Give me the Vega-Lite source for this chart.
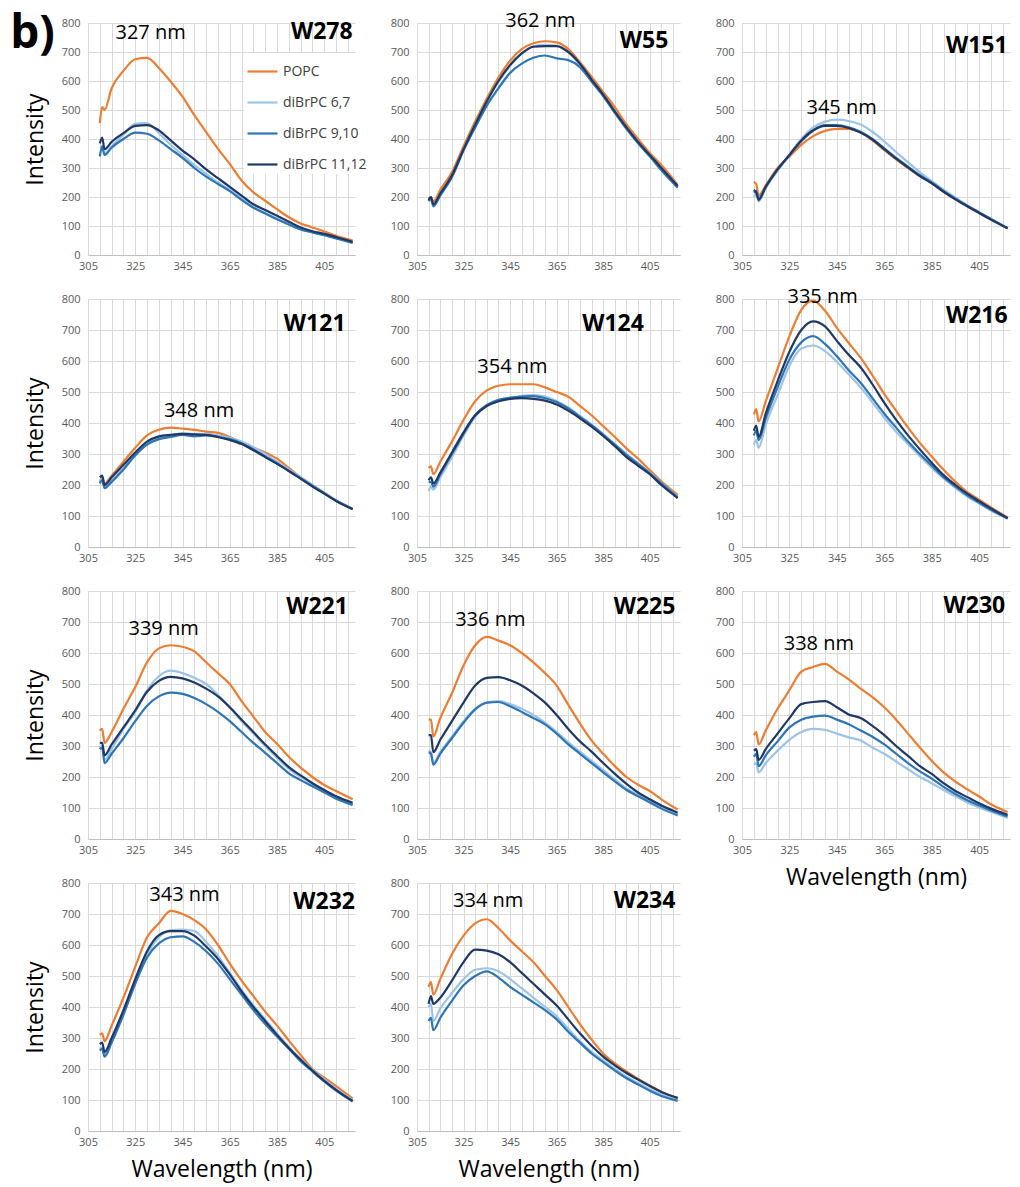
{
  "$schema": "https://vega.github.io/schema/vega-lite/v6.json",
  "background": "white",
  "padding": {"left": 10, "top": 11, "right": 5, "bottom": 5},
  "datasets": {
    "spec": [
      {"p":"W278","s":"POPC","x":[310,311,312,315,320,325,330,335,340,345,350,355,360,365,370,375,380,385,390,395,400,405,410,417],"y":[455,510,500,575,635,675,680,645,598,546,482,424,366,314,257,216,187,158,130,109,95,81,66,50]},
      {"p":"W278","s":"diBrPC 6,7","x":[310,311,312,315,320,325,330,335,340,345,350,355,360,365,370,375,380,385,390,395,400,405,410,417],"y":[375,370,350,375,415,452,455,420,380,345,310,280,250,225,195,165,145,125,105,88,78,68,58,42]},
      {"p":"W278","s":"diBrPC 9,10","x":[310,311,312,315,320,325,330,335,340,345,350,355,360,365,370,375,380,385,390,395,400,405,410,417],"y":[340,375,345,370,400,422,418,395,365,335,300,270,245,220,190,163,143,123,105,88,78,68,57,42]},
      {"p":"W278","s":"diBrPC 11,12","x":[310,311,312,315,320,325,330,335,340,345,350,355,360,365,370,375,380,385,390,395,400,405,410,417],"y":[385,405,365,390,420,445,448,430,395,360,330,295,265,235,205,175,155,135,115,95,82,73,62,45]},
      {"p":"W55","s":"POPC","x":[310,311,312,315,320,325,330,335,340,345,350,355,360,365,370,375,380,385,390,395,400,405,410,417],"y":[195,200,185,225,285,375,460,540,612,670,710,730,737,733,710,665,615,562,510,450,400,352,310,242]},
      {"p":"W55","s":"diBrPC 6,7","x":[310,311,312,315,320,325,330,335,340,345,350,355,360,365,370,375,380,385,390,395,400,405,410,417],"y":[188,195,172,210,272,365,450,528,598,652,695,720,725,722,700,655,602,550,492,437,388,343,298,236]},
      {"p":"W55","s":"diBrPC 9,10","x":[310,311,312,315,320,325,330,335,340,345,350,355,360,365,370,375,380,385,390,395,400,405,410,417],"y":[185,195,168,205,268,360,440,515,575,628,660,680,688,678,672,648,598,548,490,435,385,340,292,232]},
      {"p":"W55","s":"diBrPC 11,12","x":[310,311,312,315,320,325,330,335,340,345,350,355,360,365,370,375,380,385,390,395,400,405,410,417],"y":[190,200,175,212,275,365,450,530,600,655,695,718,720,720,700,660,605,553,495,440,390,345,300,238]},
      {"p":"W151","s":"POPC","x":[310,311,312,315,320,325,330,335,340,345,350,355,360,365,370,375,380,385,390,395,400,405,410,417],"y":[252,245,205,240,300,340,380,410,428,435,435,422,395,362,330,300,272,248,218,192,168,145,122,92]},
      {"p":"W151","s":"diBrPC 6,7","x":[310,311,312,315,320,325,330,335,340,345,350,355,360,365,370,375,380,385,390,395,400,405,410,417],"y":[200,210,185,230,290,345,400,440,460,467,462,450,425,392,355,320,285,255,225,198,172,148,124,93]},
      {"p":"W151","s":"diBrPC 9,10","x":[310,311,312,315,320,325,330,335,340,345,350,355,360,365,370,375,380,385,390,395,400,405,410,417],"y":[215,220,195,235,295,345,392,428,448,448,440,425,400,368,335,305,275,250,220,194,170,147,124,92]},
      {"p":"W151","s":"diBrPC 11,12","x":[310,311,312,315,320,325,330,335,340,345,350,355,360,365,370,375,380,385,390,395,400,405,410,417],"y":[225,215,190,235,295,345,395,430,445,445,438,422,398,365,332,302,272,247,218,192,168,145,122,92]},
      {"p":"W121","s":"POPC","x":[310,311,312,315,320,325,330,335,340,345,350,355,360,365,370,375,380,385,390,395,400,405,410,417],"y":[210,225,205,230,275,320,360,378,385,382,378,372,368,355,338,320,305,285,255,225,200,175,150,123]},
      {"p":"W121","s":"diBrPC 6,7","x":[310,311,312,315,320,325,330,335,340,345,350,355,360,365,370,375,380,385,390,395,400,405,410,417],"y":[210,220,195,215,255,298,335,352,360,367,365,365,360,352,340,322,300,275,250,225,200,175,150,123]},
      {"p":"W121","s":"diBrPC 9,10","x":[310,311,312,315,320,325,330,335,340,345,350,355,360,365,370,375,380,385,390,395,400,405,410,417],"y":[205,215,190,210,250,295,330,348,355,362,357,360,355,348,335,315,292,270,245,222,197,173,150,123]},
      {"p":"W121","s":"diBrPC 11,12","x":[310,311,312,315,320,325,330,335,340,345,350,355,360,365,370,375,380,385,390,395,400,405,410,417],"y":[225,230,200,225,265,305,340,357,362,365,363,362,355,345,332,312,290,268,245,220,195,172,148,122]},
      {"p":"W124","s":"POPC","x":[310,311,312,315,320,325,330,335,340,345,350,355,360,365,370,375,380,385,390,395,400,405,410,417],"y":[255,260,235,275,340,410,470,505,520,525,525,525,515,500,485,455,425,390,355,318,285,248,212,168]},
      {"p":"W124","s":"diBrPC 6,7","x":[310,311,312,315,320,325,330,335,340,345,350,355,360,365,370,375,380,385,390,395,400,405,410,417],"y":[180,195,185,225,290,360,420,455,470,480,488,490,485,470,450,423,395,365,332,300,270,240,207,162]},
      {"p":"W124","s":"diBrPC 9,10","x":[310,311,312,315,320,325,330,335,340,345,350,355,360,365,370,375,380,385,390,395,400,405,410,417],"y":[210,210,195,235,300,365,425,458,475,482,485,487,480,468,447,420,393,362,330,297,268,238,205,160]},
      {"p":"W124","s":"diBrPC 11,12","x":[310,311,312,315,320,325,330,335,340,345,350,355,360,365,370,375,380,385,390,395,400,405,410,417],"y":[215,225,205,240,305,370,425,455,470,478,480,478,472,460,440,415,388,358,325,290,262,235,200,158]},
      {"p":"W216","s":"POPC","x":[310,311,312,315,320,325,330,335,340,345,350,355,360,365,370,375,380,385,390,395,400,405,410,417],"y":[428,445,405,470,575,680,765,795,762,707,658,611,554,494,439,385,336,292,249,210,177,153,128,95]},
      {"p":"W216","s":"diBrPC 6,7","x":[310,311,312,315,320,325,330,335,340,345,350,355,360,365,370,375,380,385,390,395,400,405,410,417],"y":[330,345,320,395,490,585,640,650,632,597,557,515,467,417,372,332,293,256,221,191,163,140,118,91]},
      {"p":"W216","s":"diBrPC 9,10","x":[310,311,312,315,320,325,330,335,340,345,350,355,360,365,370,375,380,385,390,395,400,405,410,417],"y":[360,375,345,415,515,605,660,680,655,615,570,530,480,430,385,340,300,262,225,195,167,143,120,93]},
      {"p":"W216","s":"diBrPC 11,12","x":[310,311,312,315,320,325,330,335,340,345,350,355,360,365,370,375,380,385,390,395,400,405,410,417],"y":[375,392,355,430,535,630,700,728,712,665,620,580,525,465,410,360,315,272,232,200,172,148,124,93]},
      {"p":"W221","s":"POPC","x":[310,311,312,315,320,325,330,335,340,345,350,355,360,365,370,375,380,385,390,395,400,405,410,417],"y":[350,355,310,345,420,490,570,615,625,620,605,570,535,500,445,395,345,307,265,230,200,174,155,128]},
      {"p":"W221","s":"diBrPC 6,7","x":[310,311,312,315,320,325,330,335,340,345,350,355,360,365,370,375,380,385,390,395,400,405,410,417],"y":[290,300,255,290,355,410,480,525,543,535,520,500,465,425,380,340,300,262,226,200,178,155,135,110]},
      {"p":"W221","s":"diBrPC 9,10","x":[310,311,312,315,320,325,330,335,340,345,350,355,360,365,370,375,380,385,390,395,400,405,410,417],"y":[290,295,245,275,325,380,430,460,472,468,455,435,410,380,345,310,278,245,212,190,170,150,130,110]},
      {"p":"W221","s":"diBrPC 11,12","x":[310,311,312,315,320,325,330,335,340,345,350,355,360,365,370,375,380,385,390,395,400,405,410,417],"y":[310,310,270,305,360,415,475,510,523,518,505,485,460,425,385,345,305,268,232,205,180,158,138,117]},
      {"p":"W225","s":"POPC","x":[310,311,312,315,320,325,330,335,340,345,350,355,360,365,370,375,380,385,390,395,400,405,410,417],"y":[385,385,330,390,470,560,625,652,640,625,600,570,535,495,433,373,318,275,235,200,175,155,128,95]},
      {"p":"W225","s":"diBrPC 6,7","x":[310,311,312,315,320,325,330,335,340,345,350,355,360,365,370,375,380,385,390,395,400,405,410,417],"y":[285,280,245,280,330,380,420,440,445,435,420,400,375,345,312,282,252,222,192,163,142,122,102,78]},
      {"p":"W225","s":"diBrPC 9,10","x":[310,311,312,315,320,325,330,335,340,345,350,355,360,365,370,375,380,385,390,395,400,405,410,417],"y":[280,275,240,275,325,375,418,440,442,428,410,390,370,340,305,275,245,215,186,158,138,118,98,76]},
      {"p":"W225","s":"diBrPC 11,12","x":[310,311,312,315,320,325,330,335,340,345,350,355,360,365,370,375,380,385,390,395,400,405,410,417],"y":[335,335,280,320,380,440,495,520,522,512,495,470,440,400,355,315,282,245,210,178,150,128,108,85]},
      {"p":"W230","s":"POPC","x":[310,311,312,315,320,325,330,335,340,345,350,355,360,365,370,375,380,385,390,395,400,405,410,417],"y":[335,345,305,350,420,480,540,555,565,540,515,485,458,425,385,340,295,252,215,185,160,137,112,87]},
      {"p":"W230","s":"diBrPC 6,7","x":[310,311,312,315,320,325,330,335,340,345,350,355,360,365,370,375,380,385,390,395,400,405,410,417],"y":[240,245,215,245,285,320,345,355,352,340,328,318,295,275,250,225,200,180,158,138,118,102,88,68]},
      {"p":"W230","s":"diBrPC 9,10","x":[310,311,312,315,320,325,330,335,340,345,350,355,360,365,370,375,380,385,390,395,400,405,410,417],"y":[265,275,235,270,315,360,385,395,398,385,370,350,330,305,275,245,218,195,168,145,125,108,92,73]},
      {"p":"W230","s":"diBrPC 11,12","x":[310,311,312,315,320,325,330,335,340,345,350,355,360,365,370,375,380,385,390,395,400,405,410,417],"y":[285,290,255,290,340,390,435,442,445,425,402,390,365,335,300,268,235,210,180,155,135,115,98,78]},
      {"p":"W232","s":"POPC","x":[310,311,312,315,320,325,330,335,340,345,350,355,360,365,370,375,380,385,390,395,400,405,410,417],"y":[310,315,290,340,430,530,625,670,710,700,680,650,600,540,485,435,385,340,292,245,200,172,145,105]},
      {"p":"W232","s":"diBrPC 6,7","x":[310,311,312,315,320,325,330,335,340,345,350,355,360,365,370,375,380,385,390,395,400,405,410,417],"y":[265,270,245,290,380,480,570,625,648,650,645,610,565,510,455,405,360,315,272,232,198,166,136,100]},
      {"p":"W232","s":"diBrPC 9,10","x":[310,311,312,315,320,325,330,335,340,345,350,355,360,365,370,375,380,385,390,395,400,405,410,417],"y":[260,265,240,285,375,475,560,605,625,628,610,580,540,490,440,390,345,305,265,225,192,160,130,95]},
      {"p":"W232","s":"diBrPC 11,12","x":[310,311,312,315,320,325,330,335,340,345,350,355,360,365,370,375,380,385,390,395,400,405,410,417],"y":[280,285,255,300,390,490,580,632,645,645,630,595,555,505,450,400,355,310,268,230,195,162,133,97]},
      {"p":"W234","s":"POPC","x":[310,311,312,315,320,325,330,335,340,345,350,355,360,365,370,375,380,385,390,395,400,405,410,417],"y":[465,480,440,490,570,630,670,683,655,615,580,545,500,455,400,345,295,250,218,192,168,147,127,105]},
      {"p":"W234","s":"diBrPC 6,7","x":[310,311,312,315,320,325,330,335,340,345,350,355,360,365,370,375,380,385,390,395,400,405,410,417],"y":[400,410,355,395,445,490,520,525,515,490,460,430,400,370,330,290,255,228,200,175,155,135,118,100]},
      {"p":"W234","s":"diBrPC 9,10","x":[310,311,312,315,320,325,330,335,340,345,350,355,360,365,370,375,380,385,390,395,400,405,410,417],"y":[355,365,325,365,420,470,500,515,495,465,440,415,390,360,320,285,250,222,195,170,150,130,113,97]},
      {"p":"W234","s":"diBrPC 11,12","x":[310,311,312,315,320,325,330,335,340,345,350,355,360,365,370,375,380,385,390,395,400,405,410,417],"y":[410,435,410,430,485,545,585,582,570,545,510,475,440,405,360,315,275,240,212,187,166,145,126,107]}
    ]
  },
  "data": {"name": "spec"},
  "transform": [{"flatten": ["x", "y"]}],
  "columns": 3,
  "spacing": {"row": 44, "column": 62},
  "bounds": "flush",
  "resolve": {"scale": {"color": "independent"}},
  "concat": [
    {"width": 267, "height": 232, "layer": [
      {"transform": [{"filter": "datum.p === 'W278'"}], "mark": {"type": "line"},
       "encoding": {
        "x": {"field": "x", "type": "quantitative", "scale": {"domain": [305, 418], "nice": false, "zero": false}, "axis": {"values": [305,310,315,320,325,330,335,340,345,350,355,360,365,370,375,380,385,390,395,400,405,410,415], "tickCount": 100, "labelExpr": "(datum.value - 305) % 20 === 0 ? datum.label : ''", "title": null}},
        "y": {"field": "y", "type": "quantitative", "scale": {"domain": [0, 800], "nice": false}, "axis": {"values": [0,100,200,300,400,500,600,700,800], "tickCount": 100, "title": "Intensity"}},
        "color": {"field": "s", "type": "nominal", "scale": {"domain": ["POPC", "diBrPC 6,7", "diBrPC 9,10", "diBrPC 11,12"], "range": ["#ED7D31", "#9DC3E6", "#2E75B6", "#1F3864"]},
          "legend": {"orient": "none", "legendX": 156, "legendY": 30, "title": null, "symbolType": "stroke", "symbolStrokeWidth": 2.5, "symbolSize": 900, "labelFontSize": 14, "labelColor": "#404040", "labelFont": "Open Sans", "fillColor": "white", "padding": 2, "rowPadding": 7, "labelOffset": 4}}
       }},
      {"data": {"values": [{}]}, "mark": {"type": "text", "text": "b)", "fontSize": 46, "fontWeight": "bold", "align": "center", "baseline": "middle"}, "encoding": {"x": {"datum": 281.5}, "y": {"datum": 762}}},
      {"data": {"values": [{}]}, "mark": {"type": "text", "text": "327 nm", "fontSize": 20, "align": "center", "baseline": "middle"}, "encoding": {"x": {"datum": 331.5}, "y": {"datum": 765}}},
      {"data": {"values": [{}]}, "mark": {"type": "text", "text": "W278", "fontSize": 23, "fontWeight": "bold", "align": "right", "baseline": "middle"}, "encoding": {"x": {"datum": 417}, "y": {"datum": 769}}}
    ]},
    {"width": 263, "height": 232, "layer": [
      {"transform": [{"filter": "datum.p === 'W55'"}], "mark": {"type": "line"},
       "encoding": {
        "x": {"field": "x", "type": "quantitative", "scale": {"domain": [305, 418], "nice": false, "zero": false}, "axis": {"values": [305,310,315,320,325,330,335,340,345,350,355,360,365,370,375,380,385,390,395,400,405,410,415], "tickCount": 100, "labelExpr": "(datum.value - 305) % 20 === 0 ? datum.label : ''", "title": null}},
        "y": {"field": "y", "type": "quantitative", "scale": {"domain": [0, 800], "nice": false}, "axis": {"values": [0,100,200,300,400,500,600,700,800], "tickCount": 100, "title": null}},
        "color": {"field": "s", "type": "nominal", "scale": {"domain": ["POPC", "diBrPC 6,7", "diBrPC 9,10", "diBrPC 11,12"], "range": ["#ED7D31", "#9DC3E6", "#2E75B6", "#1F3864"]}, "legend": null}
       }},
      {"data": {"values": [{}]}, "mark": {"type": "text", "text": "362 nm", "fontSize": 20, "align": "center", "baseline": "middle"}, "encoding": {"x": {"datum": 358}, "y": {"datum": 806}}},
      {"data": {"values": [{}]}, "mark": {"type": "text", "text": "W55", "fontSize": 23, "fontWeight": "bold", "align": "right", "baseline": "middle"}, "encoding": {"x": {"datum": 413}, "y": {"datum": 737}}}
    ]},
    {"width": 268, "height": 232, "layer": [
      {"transform": [{"filter": "datum.p === 'W151'"}], "mark": {"type": "line"},
       "encoding": {
        "x": {"field": "x", "type": "quantitative", "scale": {"domain": [305, 418], "nice": false, "zero": false}, "axis": {"values": [305,310,315,320,325,330,335,340,345,350,355,360,365,370,375,380,385,390,395,400,405,410,415], "tickCount": 100, "labelExpr": "(datum.value - 305) % 20 === 0 ? datum.label : ''", "title": null}},
        "y": {"field": "y", "type": "quantitative", "scale": {"domain": [0, 800], "nice": false}, "axis": {"values": [0,100,200,300,400,500,600,700,800], "tickCount": 100, "title": null}},
        "color": {"field": "s", "type": "nominal", "scale": {"domain": ["POPC", "diBrPC 6,7", "diBrPC 9,10", "diBrPC 11,12"], "range": ["#ED7D31", "#9DC3E6", "#2E75B6", "#1F3864"]}, "legend": null}
       }},
      {"data": {"values": [{}]}, "mark": {"type": "text", "text": "345 nm", "fontSize": 20, "align": "center", "baseline": "middle"}, "encoding": {"x": {"datum": 347}, "y": {"datum": 506}}},
      {"data": {"values": [{}]}, "mark": {"type": "text", "text": "W151", "fontSize": 23, "fontWeight": "bold", "align": "right", "baseline": "middle"}, "encoding": {"x": {"datum": 417}, "y": {"datum": 721}}}
    ]},
    {"width": 267, "height": 248, "layer": [
      {"transform": [{"filter": "datum.p === 'W121'"}], "mark": {"type": "line"},
       "encoding": {
        "x": {"field": "x", "type": "quantitative", "scale": {"domain": [305, 418], "nice": false, "zero": false}, "axis": {"values": [305,310,315,320,325,330,335,340,345,350,355,360,365,370,375,380,385,390,395,400,405,410,415], "tickCount": 100, "labelExpr": "(datum.value - 305) % 20 === 0 ? datum.label : ''", "title": null}},
        "y": {"field": "y", "type": "quantitative", "scale": {"domain": [0, 800], "nice": false}, "axis": {"values": [0,100,200,300,400,500,600,700,800], "tickCount": 100, "title": "Intensity"}},
        "color": {"field": "s", "type": "nominal", "scale": {"domain": ["POPC", "diBrPC 6,7", "diBrPC 9,10", "diBrPC 11,12"], "range": ["#ED7D31", "#9DC3E6", "#2E75B6", "#1F3864"]}, "legend": null}
       }},
      {"data": {"values": [{}]}, "mark": {"type": "text", "text": "348 nm", "fontSize": 20, "align": "center", "baseline": "middle"}, "encoding": {"x": {"datum": 352}, "y": {"datum": 440}}},
      {"data": {"values": [{}]}, "mark": {"type": "text", "text": "W121", "fontSize": 23, "fontWeight": "bold", "align": "right", "baseline": "middle"}, "encoding": {"x": {"datum": 414}, "y": {"datum": 720}}}
    ]},
    {"width": 263, "height": 248, "layer": [
      {"transform": [{"filter": "datum.p === 'W124'"}], "mark": {"type": "line"},
       "encoding": {
        "x": {"field": "x", "type": "quantitative", "scale": {"domain": [305, 418], "nice": false, "zero": false}, "axis": {"values": [305,310,315,320,325,330,335,340,345,350,355,360,365,370,375,380,385,390,395,400,405,410,415], "tickCount": 100, "labelExpr": "(datum.value - 305) % 20 === 0 ? datum.label : ''", "title": null}},
        "y": {"field": "y", "type": "quantitative", "scale": {"domain": [0, 800], "nice": false}, "axis": {"values": [0,100,200,300,400,500,600,700,800], "tickCount": 100, "title": null}},
        "color": {"field": "s", "type": "nominal", "scale": {"domain": ["POPC", "diBrPC 6,7", "diBrPC 9,10", "diBrPC 11,12"], "range": ["#ED7D31", "#9DC3E6", "#2E75B6", "#1F3864"]}, "legend": null}
       }},
      {"data": {"values": [{}]}, "mark": {"type": "text", "text": "354 nm", "fontSize": 20, "align": "center", "baseline": "middle"}, "encoding": {"x": {"datum": 346}, "y": {"datum": 580}}},
      {"data": {"values": [{}]}, "mark": {"type": "text", "text": "W124", "fontSize": 23, "fontWeight": "bold", "align": "right", "baseline": "middle"}, "encoding": {"x": {"datum": 402.5}, "y": {"datum": 720}}}
    ]},
    {"width": 268, "height": 248, "layer": [
      {"transform": [{"filter": "datum.p === 'W216'"}], "mark": {"type": "line"},
       "encoding": {
        "x": {"field": "x", "type": "quantitative", "scale": {"domain": [305, 418], "nice": false, "zero": false}, "axis": {"values": [305,310,315,320,325,330,335,340,345,350,355,360,365,370,375,380,385,390,395,400,405,410,415], "tickCount": 100, "labelExpr": "(datum.value - 305) % 20 === 0 ? datum.label : ''", "title": null}},
        "y": {"field": "y", "type": "quantitative", "scale": {"domain": [0, 800], "nice": false}, "axis": {"values": [0,100,200,300,400,500,600,700,800], "tickCount": 100, "title": null}},
        "color": {"field": "s", "type": "nominal", "scale": {"domain": ["POPC", "diBrPC 6,7", "diBrPC 9,10", "diBrPC 11,12"], "range": ["#ED7D31", "#9DC3E6", "#2E75B6", "#1F3864"]}, "legend": null}
       }},
      {"data": {"values": [{}]}, "mark": {"type": "text", "text": "335 nm", "fontSize": 20, "align": "center", "baseline": "middle"}, "encoding": {"x": {"datum": 339}, "y": {"datum": 805}}},
      {"data": {"values": [{}]}, "mark": {"type": "text", "text": "W216", "fontSize": 23, "fontWeight": "bold", "align": "right", "baseline": "middle"}, "encoding": {"x": {"datum": 417}, "y": {"datum": 745}}}
    ]},
    {"width": 267, "height": 248, "layer": [
      {"transform": [{"filter": "datum.p === 'W221'"}], "mark": {"type": "line"},
       "encoding": {
        "x": {"field": "x", "type": "quantitative", "scale": {"domain": [305, 418], "nice": false, "zero": false}, "axis": {"values": [305,310,315,320,325,330,335,340,345,350,355,360,365,370,375,380,385,390,395,400,405,410,415], "tickCount": 100, "labelExpr": "(datum.value - 305) % 20 === 0 ? datum.label : ''", "title": null}},
        "y": {"field": "y", "type": "quantitative", "scale": {"domain": [0, 800], "nice": false}, "axis": {"values": [0,100,200,300,400,500,600,700,800], "tickCount": 100, "title": "Intensity"}},
        "color": {"field": "s", "type": "nominal", "scale": {"domain": ["POPC", "diBrPC 6,7", "diBrPC 9,10", "diBrPC 11,12"], "range": ["#ED7D31", "#9DC3E6", "#2E75B6", "#1F3864"]}, "legend": null}
       }},
      {"data": {"values": [{}]}, "mark": {"type": "text", "text": "339 nm", "fontSize": 20, "align": "center", "baseline": "middle"}, "encoding": {"x": {"datum": 337}, "y": {"datum": 679}}},
      {"data": {"values": [{}]}, "mark": {"type": "text", "text": "W221", "fontSize": 23, "fontWeight": "bold", "align": "right", "baseline": "middle"}, "encoding": {"x": {"datum": 415}, "y": {"datum": 749}}}
    ]},
    {"width": 263, "height": 248, "layer": [
      {"transform": [{"filter": "datum.p === 'W225'"}], "mark": {"type": "line"},
       "encoding": {
        "x": {"field": "x", "type": "quantitative", "scale": {"domain": [305, 418], "nice": false, "zero": false}, "axis": {"values": [305,310,315,320,325,330,335,340,345,350,355,360,365,370,375,380,385,390,395,400,405,410,415], "tickCount": 100, "labelExpr": "(datum.value - 305) % 20 === 0 ? datum.label : ''", "title": null}},
        "y": {"field": "y", "type": "quantitative", "scale": {"domain": [0, 800], "nice": false}, "axis": {"values": [0,100,200,300,400,500,600,700,800], "tickCount": 100, "title": null}},
        "color": {"field": "s", "type": "nominal", "scale": {"domain": ["POPC", "diBrPC 6,7", "diBrPC 9,10", "diBrPC 11,12"], "range": ["#ED7D31", "#9DC3E6", "#2E75B6", "#1F3864"]}, "legend": null}
       }},
      {"data": {"values": [{}]}, "mark": {"type": "text", "text": "336 nm", "fontSize": 20, "align": "center", "baseline": "middle"}, "encoding": {"x": {"datum": 336.5}, "y": {"datum": 705}}},
      {"data": {"values": [{}]}, "mark": {"type": "text", "text": "W225", "fontSize": 23, "fontWeight": "bold", "align": "right", "baseline": "middle"}, "encoding": {"x": {"datum": 416}, "y": {"datum": 749}}}
    ]},
    {"width": 268, "height": 248, "layer": [
      {"transform": [{"filter": "datum.p === 'W230'"}], "mark": {"type": "line"},
       "encoding": {
        "x": {"field": "x", "type": "quantitative", "scale": {"domain": [305, 418], "nice": false, "zero": false}, "axis": {"values": [305,310,315,320,325,330,335,340,345,350,355,360,365,370,375,380,385,390,395,400,405,410,415], "tickCount": 100, "labelExpr": "(datum.value - 305) % 20 === 0 ? datum.label : ''", "title": "Wavelength (nm)"}},
        "y": {"field": "y", "type": "quantitative", "scale": {"domain": [0, 800], "nice": false}, "axis": {"values": [0,100,200,300,400,500,600,700,800], "tickCount": 100, "title": null}},
        "color": {"field": "s", "type": "nominal", "scale": {"domain": ["POPC", "diBrPC 6,7", "diBrPC 9,10", "diBrPC 11,12"], "range": ["#ED7D31", "#9DC3E6", "#2E75B6", "#1F3864"]}, "legend": null}
       }},
      {"data": {"values": [{}]}, "mark": {"type": "text", "text": "338 nm", "fontSize": 20, "align": "center", "baseline": "middle"}, "encoding": {"x": {"datum": 337.4}, "y": {"datum": 629}}},
      {"data": {"values": [{}]}, "mark": {"type": "text", "text": "W230", "fontSize": 23, "fontWeight": "bold", "align": "right", "baseline": "middle"}, "encoding": {"x": {"datum": 416}, "y": {"datum": 752}}}
    ]},
    {"width": 267, "height": 248, "layer": [
      {"transform": [{"filter": "datum.p === 'W232'"}], "mark": {"type": "line"},
       "encoding": {
        "x": {"field": "x", "type": "quantitative", "scale": {"domain": [305, 418], "nice": false, "zero": false}, "axis": {"values": [305,310,315,320,325,330,335,340,345,350,355,360,365,370,375,380,385,390,395,400,405,410,415], "tickCount": 100, "labelExpr": "(datum.value - 305) % 20 === 0 ? datum.label : ''", "title": "Wavelength (nm)"}},
        "y": {"field": "y", "type": "quantitative", "scale": {"domain": [0, 800], "nice": false}, "axis": {"values": [0,100,200,300,400,500,600,700,800], "tickCount": 100, "title": "Intensity"}},
        "color": {"field": "s", "type": "nominal", "scale": {"domain": ["POPC", "diBrPC 6,7", "diBrPC 9,10", "diBrPC 11,12"], "range": ["#ED7D31", "#9DC3E6", "#2E75B6", "#1F3864"]}, "legend": null}
       }},
      {"data": {"values": [{}]}, "mark": {"type": "text", "text": "343 nm", "fontSize": 20, "align": "center", "baseline": "middle"}, "encoding": {"x": {"datum": 345.8}, "y": {"datum": 762}}},
      {"data": {"values": [{}]}, "mark": {"type": "text", "text": "W232", "fontSize": 23, "fontWeight": "bold", "align": "right", "baseline": "middle"}, "encoding": {"x": {"datum": 418}, "y": {"datum": 740}}}
    ]},
    {"width": 263, "height": 248, "layer": [
      {"transform": [{"filter": "datum.p === 'W234'"}], "mark": {"type": "line"},
       "encoding": {
        "x": {"field": "x", "type": "quantitative", "scale": {"domain": [305, 418], "nice": false, "zero": false}, "axis": {"values": [305,310,315,320,325,330,335,340,345,350,355,360,365,370,375,380,385,390,395,400,405,410,415], "tickCount": 100, "labelExpr": "(datum.value - 305) % 20 === 0 ? datum.label : ''", "title": "Wavelength (nm)"}},
        "y": {"field": "y", "type": "quantitative", "scale": {"domain": [0, 800], "nice": false}, "axis": {"values": [0,100,200,300,400,500,600,700,800], "tickCount": 100, "title": null}},
        "color": {"field": "s", "type": "nominal", "scale": {"domain": ["POPC", "diBrPC 6,7", "diBrPC 9,10", "diBrPC 11,12"], "range": ["#ED7D31", "#9DC3E6", "#2E75B6", "#1F3864"]}, "legend": null}
       }},
      {"data": {"values": [{}]}, "mark": {"type": "text", "text": "334 nm", "fontSize": 20, "align": "center", "baseline": "middle"}, "encoding": {"x": {"datum": 335.6}, "y": {"datum": 743}}},
      {"data": {"values": [{}]}, "mark": {"type": "text", "text": "W234", "fontSize": 23, "fontWeight": "bold", "align": "right", "baseline": "middle"}, "encoding": {"x": {"datum": 416}, "y": {"datum": 743}}}
    ]}
  ],
  "config": {
    "view": {"stroke": null},
    "font": "Open Sans",
    "text": {"font": "Open Sans", "color": "#000000"},
    "line": {"strokeWidth": 2.2, "interpolate": "monotone"},
    "axis": {"labelFont": "Open Sans", "titleFont": "Open Sans", "titleFontSize": 23, "titleFontWeight": "normal", "titleColor": "#000000", "labelColor": "#595959", "labelFontSize": 11, "gridColor": "#D9D9D9", "gridWidth": 1, "ticks": false, "labelFlush": false, "labelOverlap": false},
    "axisX": {"grid": true, "domainColor": "#BFBFBF", "labelPadding": 5, "titlePadding": 11},
    "axisY": {"grid": true, "domain": false, "labelPadding": 8, "titlePadding": 14}
  }
}
